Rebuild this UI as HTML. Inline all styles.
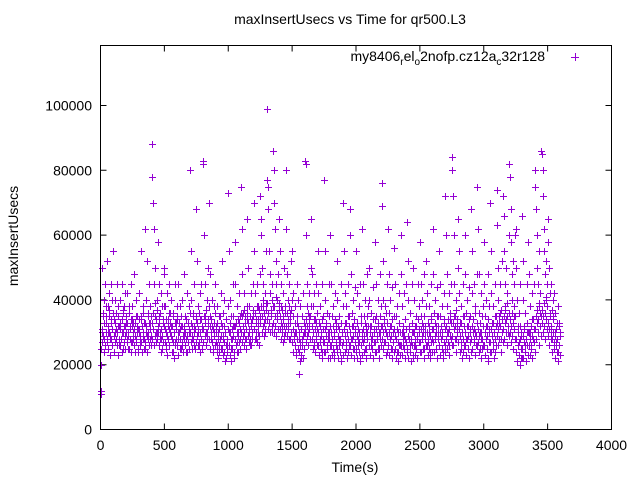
<!DOCTYPE html>
<html><head><meta charset="utf-8"><style>
body{margin:0;background:#fff}
svg text{font-family:"Liberation Sans",sans-serif;font-size:14px;fill:#000}
</style></head><body>
<svg id="chart" width="640" height="480" viewBox="0 0 640 480">
<rect width="640" height="480" fill="#fff"/>
<text x="350" y="24" text-anchor="middle">maxInsertUsecs vs Time for qr500.L3</text>
<text transform="translate(18,236) rotate(-90)" text-anchor="middle">maxInsertUsecs</text>
<text x="355" y="472" text-anchor="middle">Time(s)</text>
<g id="axes"></g>
<g id="points"></g>
<g>
<text x="545" y="61" text-anchor="end">my8406<tspan dy="4" font-size="10">r</tspan><tspan dy="-4">el</tspan><tspan dy="4" font-size="10">o</tspan><tspan dy="-4">2nofp.cz12a</tspan><tspan dy="4" font-size="10">c</tspan><tspan dy="-4">32r128</tspan></text>
<path d="M571 57.5h8M575.5 53v8" stroke="#9400d3" stroke-width="1"/>
</g>
<rect x="100.5" y="45.5" width="511" height="384" fill="none" stroke="#000"/>
</svg>
<script>
const xTicks=[0,500,1000,1500,2000,2500,3000,3500,4000];
const yTicks=[0,20000,40000,60000,80000,100000];
const bucketStart=[0,50,100,150,200,250,300,350,400,450,500,550,600,650,700,750,800,850,900,950,1000,1050,1100,1150,1200,1250,1300,1350,1400,1450,1500,1550,1600,1650,1700,1750,1800,1850,1900,1950,2000,2050,2100,2150,2200,2250,2300,2350,2400,2450,2500,2550,2600,2650,2700,2750,2800,2850,2900,2950,3000,3050,3100,3150,3200,3250,3300,3350,3400,3450,3500,3550];
const bucketValuesK=[
[11,12,30,50,35,28,40,45,33,38],[52,38,30,42,35,28,45,33,40,36],[55,34,30,40,28,36,45,32,38,26],[40,33,28,45,30,36,25,38,32,42],
[35,28,42,30,25,38,32,45,27,34],[38,30,26,48,33,28,40,35,24,31],[42,30,27,35,55,32,28,38,25,33],[62,40,30,52,35,28,45,33,38,26],
[88,78,70,62,45,50,35,30,40,28],[58,45,35,30,42,28,38,25,33,48],[50,38,30,26,42,34,28,45,31,36],[40,32,28,24,36,30,45,27,33,38],
[35,28,45,30,25,38,32,26,40,29],[48,30,26,35,28,42,24,33,38,30],[80,55,40,32,28,36,45,30,25,35],[68,52,38,30,26,42,34,28,45,31],
[82,83,60,45,35,30,40,28,50,33],[70,48,35,28,40,32,25,38,30,45],[45,32,26,38,30,24,35,28,42,33],[52,36,28,24,40,30,22,34,26,38],
[73,55,40,30,25,35,28,45,32,22],[58,45,33,27,38,30,24,42,35,28],[75,62,48,36,30,42,28,35,25,38],[65,50,38,30,26,42,33,28,45,35],
[70,55,42,34,28,45,30,38,26,48],[72,65,60,50,45,38,33,42,30,55],[99,77,75,68,55,48,42,36,45,30],[86,80,70,62,52,45,40,35,48,38],
[65,55,45,38,32,42,35,28,50,30],[80,62,48,40,33,45,36,28,52,30],[55,42,35,28,38,30,24,45,33,40],[17,30,26,38,22,35,28,42,25,33],
[83,82,60,45,38,30,42,35,28,50],[65,48,38,30,26,42,34,28,45,31],[55,42,33,27,38,30,24,45,35,28],[77,55,40,32,26,36,28,45,30,22],
[60,45,35,28,38,30,24,42,33,26],[52,40,32,26,35,28,22,45,30,38],[70,55,42,33,27,38,30,24,45,35],[60,68,48,36,28,40,32,25,44,30],
[55,42,33,26,38,30,22,45,35,28],[62,45,35,28,40,32,25,48,30,38],[50,40,32,26,36,28,22,44,30,34],[58,45,35,28,40,32,25,48,30,38],
[76,69,52,40,33,27,38,30,24,45],[62,48,36,28,40,32,25,44,30,35],[56,45,35,28,38,30,24,42,33,26],[60,48,38,30,26,42,34,28,45,31],
[64,52,40,32,26,36,28,45,30,22],[50,40,32,26,35,28,22,45,30,38],[58,45,35,28,40,32,25,48,30,38],[52,42,33,27,38,30,24,45,35,28],
[62,48,36,28,40,32,25,44,30,35],[55,45,35,28,38,30,24,42,33,26],[72,60,48,38,30,26,42,34,28,45],[84,80,72,60,45,35,28,40,32,50],
[65,55,42,33,27,38,30,24,45,35],[60,48,36,28,40,32,25,44,30,35],[68,55,42,34,28,45,30,38,26,48],[75,62,48,36,30,42,28,35,25,38],
[58,45,35,28,40,32,22,48,30,38],[70,55,42,33,27,38,30,24,45,35],[74,63,50,40,33,45,36,28,52,30],[72,66,55,45,38,50,42,35,30,60],
[82,78,68,58,48,40,52,45,35,60],[62,50,40,32,26,36,28,45,30,22],[66,52,40,32,26,36,28,45,30,23],[58,48,38,30,26,42,34,28,45,31],
[80,75,68,60,50,45,38,55,42,35],[86,85,80,72,62,55,48,40,52,45],[65,58,50,42,36,30,45,28,35,40],[42,36,30,26,33,28,24,38,32,29]];
const coreValuesK=[
[20,25,31,27,36,29,24,33,26,30,35,28],[27,32,25,30,37,29,23,34,28,31,26,36],[29,24,33,27,31,36,26,30,23,35,28,32],[26,31,28,34,24,30,37,27,32,29,25,33],
[30,27,33,25,29,36,28,31,24,34,27,32],[28,33,26,31,24,29,35,27,30,32,25,34],[31,26,29,34,27,32,24,30,36,28,33,25],[27,32,29,24,36,30,26,33,28,31,35,29],
[33,28,36,31,26,39,29,34,27,37,30,32],[30,26,33,28,36,24,31,29,34,27,32,38],[27,31,25,34,29,23,32,28,36,26,30,33],[29,24,32,27,35,30,22,33,26,31,28,34],
[26,30,23,33,28,31,25,35,27,32,29,24],[28,32,26,30,24,34,29,27,33,25,31,36],[30,27,33,29,25,35,28,32,26,31,34,27],[29,33,26,31,27,36,24,30,34,28,32,25],
[31,27,35,29,33,26,37,30,28,34,32,38],[28,32,25,30,34,27,31,24,33,29,36,26],[27,30,24,33,28,22,31,26,35,29,25,32],[25,29,23,32,27,21,30,26,34,28,24,31],
[26,30,23,33,28,21,31,25,35,29,24,32],[28,32,26,30,24,34,29,27,33,25,31,36],[30,35,27,32,29,37,26,33,31,28,36,34],[29,33,27,31,35,28,32,26,34,30,37,31],
[31,36,28,33,30,38,27,34,32,29,37,35],[33,38,30,35,32,40,29,36,34,31,39,37],[34,39,31,36,33,42,30,37,35,32,40,38],[33,38,30,35,32,41,29,36,34,31,39,37],
[31,35,28,33,30,37,27,34,32,29,36,38],[32,36,29,34,31,38,28,35,33,30,37,40],[27,31,24,29,33,26,30,23,35,28,32,25],[24,28,21,27,31,23,26,29,22,30,25,32],
[30,34,27,32,29,36,26,33,31,28,35,38],[28,32,25,30,34,27,31,24,33,29,36,26],[26,30,23,28,32,25,29,22,34,27,31,24],[27,31,24,29,33,25,30,22,35,28,32,26],
[26,30,23,28,32,25,29,22,34,27,31,24],[25,29,22,28,31,24,27,21,33,26,30,23],[27,31,24,29,33,25,30,22,35,28,32,26],[26,30,23,28,32,25,29,22,34,27,31,24],
[25,29,22,28,31,24,27,21,33,26,30,23],[27,31,24,29,33,25,30,22,35,28,32,26],[26,30,23,28,32,25,29,22,34,27,31,24],[27,31,24,29,33,25,30,22,35,28,32,26],
[28,32,25,30,34,27,31,23,36,29,33,26],[26,30,23,28,32,25,29,22,34,27,31,24],[25,29,22,28,31,24,27,21,33,26,30,23],[26,30,23,28,32,25,29,22,34,27,31,24],
[25,29,22,28,31,24,27,21,33,26,30,23],[26,30,23,28,32,25,29,22,34,27,31,24],[27,31,24,29,33,25,30,22,35,28,32,26],[26,30,23,28,32,25,29,22,34,27,31,24],
[27,31,24,29,33,25,30,22,35,28,32,26],[26,30,23,28,32,25,29,22,34,27,31,24],[28,32,25,30,34,27,31,23,36,29,33,26],[29,33,26,31,35,28,32,24,37,30,34,27],
[27,31,24,29,33,25,30,22,35,28,32,26],[26,30,23,28,32,25,29,22,34,27,31,24],[28,32,25,30,34,27,31,23,36,29,33,26],[27,31,24,29,33,25,30,22,35,28,32,26],
[26,30,23,28,32,25,29,21,34,27,31,24],[27,31,24,29,33,25,30,22,35,28,32,26],[29,33,26,31,35,28,32,24,37,30,34,27],[31,35,28,33,37,30,34,26,39,32,36,29],
[30,34,27,32,36,29,33,25,38,31,35,28],[24,28,21,26,30,23,27,20,32,25,29,22],[25,29,22,27,31,24,28,21,33,26,30,23],[26,30,23,28,32,25,29,22,34,27,31,24],
[31,35,28,33,37,30,34,26,39,32,36,29],[33,37,30,35,39,32,36,28,41,34,38,31],[29,33,26,31,35,28,32,24,37,30,34,27],[25,29,22,27,31,24,28,21,33,26,30,23]];
const bucketWidth=50;
const NS="http://www.w3.org/2000/svg";
const X0=100.5,X1=611.5,xMin=0,xMax=4000;
const Y0=429.5,yPer=(429.5-105.5)/100000;
function sx(v){return X0+(v-xMin)/(xMax-xMin)*(X1-X0);}
function sy(v){return Y0-v*yPer;}
const axes=document.getElementById('axes');
xTicks.forEach(t=>{
  const x=sx(t);
  const p=document.createElementNS(NS,'path');
  p.setAttribute('d',`M${x} 429.5v-6M${x} 45.5v6`);
  p.setAttribute('stroke','#000');
  
  
  axes.appendChild(p);
  const tx=document.createElementNS(NS,'text');
  tx.setAttribute('x',x);tx.setAttribute('y',450);tx.setAttribute('text-anchor','middle');
  tx.textContent=t;
  
  
  axes.appendChild(tx);
});
yTicks.forEach(t=>{
  const y=sy(t);
  const p=document.createElementNS(NS,'path');
  p.setAttribute('d',`M100.5 ${y}h6M611.5 ${y}h-6`);
  p.setAttribute('stroke','#000');
  
  
  axes.appendChild(p);
  const tx=document.createElementNS(NS,'text');
  tx.setAttribute('x',92);tx.setAttribute('y',y+5);tx.setAttribute('text-anchor','end');
  tx.textContent=t;
  
  
  axes.appendChild(tx);
});
const pts=document.getElementById('points');
let d='';
function addSet(arr,offset){
  bucketStart.forEach((s,bi)=>{
    const vals=arr[bi];
    vals.forEach((v,i)=>{
      const t=s+(i+offset)*bucketWidth/vals.length;
      const x=Math.round(sx(t))+0.5,y=Math.round(sy(v*1000))+0.5;
      d+=`M${x-3.5} ${y}h7M${x} ${y-3.5}v7`;
    });
  });
}
addSet(bucketValuesK,0);
addSet(coreValuesK,0.5);
const path=document.createElementNS(NS,'path');
path.setAttribute('d',d);
path.setAttribute('stroke','#9400d3');
path.setAttribute('stroke-width','1');
path.setAttribute('fill','none');


pts.appendChild(path);
</script>
</body></html>
